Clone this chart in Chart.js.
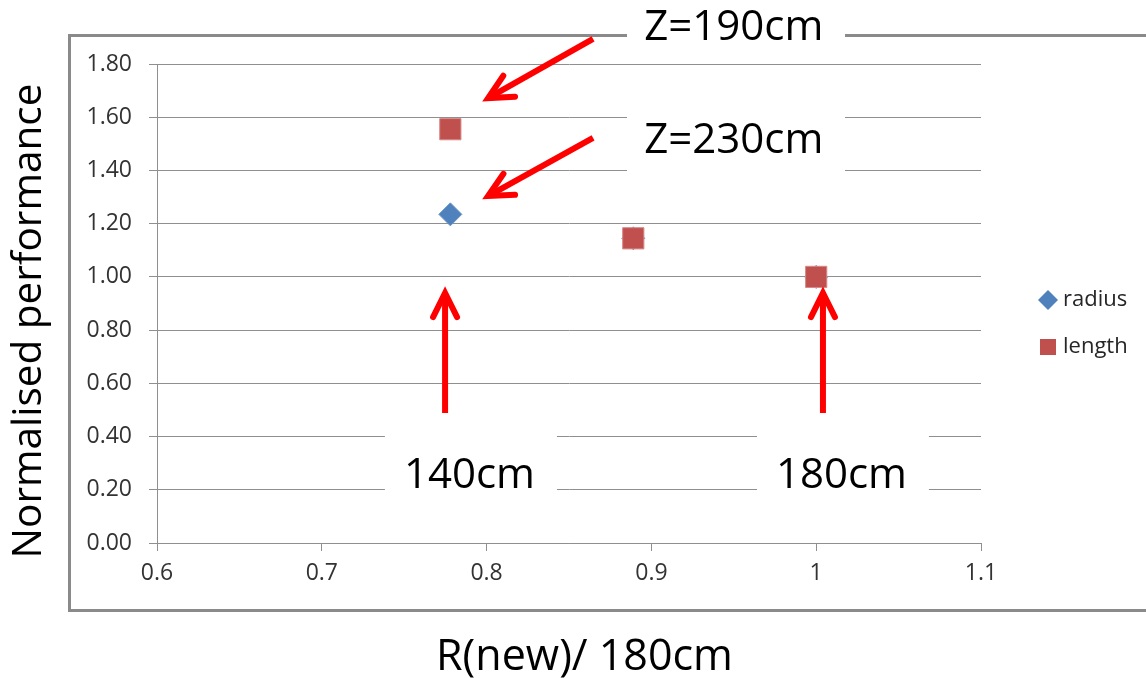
<!DOCTYPE html>
<html><head><meta charset="utf-8">
<script src="https://cdn.jsdelivr.net/npm/chart.js@4/dist/chart.umd.min.js"></script>
<style>html,body{margin:0;padding:0;background:#fff;overflow:hidden}#wrap{width:1146px;height:678px}</style>
</head><body><div id="wrap"><canvas id="c" width="1146" height="678"></canvas></div>
<script>
// ---- data ----
const seriesNames = ['radius', 'length'];
const radiusX = [0.778, 0.889, 1.0];
const radiusY = [1.235, 1.145, 1.0];
const lengthX = [0.778, 0.889, 1.0];
const lengthY = [1.555, 1.145, 1.0];
const xTickValues = [0.6, 0.7, 0.8, 0.9, 1.0, 1.1];
const xTickLabels = ['0.6', '0.7', '0.8', '0.9', '1', '1.1'];
const yTickValues = [0, 0.2, 0.4, 0.6, 0.8, 1.0, 1.2, 1.4, 1.6, 1.8];
const yTickLabels = ['0.00', '0.20', '0.40', '0.60', '0.80', '1.00', '1.20', '1.40', '1.60', '1.80'];
const xTitle = 'R(new)/ 180cm';
const yTitle = 'Normalised performance';

// annotation texts (positions in data units)
const noteTexts = ['Z=190cm', 'Z=230cm', '140cm', '180cm'];
const noteX = [0.950, 0.950, 0.7896, 1.0153];
const noteBaseY = [1.890, 1.4656, 0.205, 0.205];
const noteBoxX0 = [0.8852, 0.8852, 0.7383, 0.9641];
const noteBoxX1 = [1.0175, 1.0175, 0.8427, 1.0684];
const noteBoxY0 = [2.06, 1.68, 0.47, 0.47];
const noteBoxY1 = [1.84, 1.28, 0.06, 0.06];
// arrows: tail -> tip, data units
const arrowTailX = [0.8646, 0.8646, 0.7748, 1.0041];
const arrowTailY = [1.894, 1.522, 0.4885, 0.4885];
const arrowTipX = [0.8009, 0.8009, 0.7748, 1.0041];
const arrowTipY = [1.672, 1.304, 0.9395, 0.9395];

const FONT = '"Open Sans", "Liberation Sans", sans-serif';
const GRID = '#8f8f8f';
const blue = '#4F81BD', red = '#C0504D';

const frame = {
  id: 'frame',
  beforeDraw(chart) {
    const ctx = chart.ctx;
    ctx.save();
    ctx.fillStyle = '#fff';
    ctx.fillRect(0, 0, chart.width, chart.height);
    ctx.strokeStyle = '#8a8a8a';
    ctx.lineWidth = 3;
    ctx.strokeRect(69.5, 35.5, 1200, 575);
    ctx.restore();
  }
};

function drawArrow(ctx, x0, y0, x1, y1) {
  const ang = Math.atan2(y1 - y0, x1 - x0);
  const headLen = 27, spread = 0.46;
  ctx.beginPath();
  ctx.moveTo(x0, y0);
  ctx.lineTo(x1 - Math.cos(ang) * 3, y1 - Math.sin(ang) * 3);
  ctx.lineCap = 'butt';
  ctx.stroke();
  ctx.beginPath();
  ctx.moveTo(x1 - headLen * Math.cos(ang - spread), y1 - headLen * Math.sin(ang - spread));
  ctx.lineTo(x1, y1);
  ctx.lineTo(x1 - headLen * Math.cos(ang + spread), y1 - headLen * Math.sin(ang + spread));
  ctx.lineCap = 'round';
  ctx.lineJoin = 'miter';
  ctx.stroke();
}

const notes = {
  id: 'notes',
  afterDraw(chart) {
    const ctx = chart.ctx, xs = chart.scales.x, ys = chart.scales.y;
    const px = v => xs.getPixelForValue(v), py = v => ys.getPixelForValue(v);
    ctx.save();
    // white boxes
    ctx.fillStyle = '#fff';
    for (let i = 0; i < noteTexts.length; i++) {
      const x0 = px(noteBoxX0[i]), x1 = px(noteBoxX1[i]);
      const y0 = py(noteBoxY0[i]), y1 = py(noteBoxY1[i]);
      ctx.fillRect(x0, y0, x1 - x0, y1 - y0);
    }
    // texts
    ctx.fillStyle = '#000';
    ctx.font = '42px ' + FONT;
    ctx.textAlign = 'center';
    ctx.textBaseline = 'alphabetic';
    for (let i = 0; i < noteTexts.length; i++) {
      ctx.fillText(noteTexts[i], px(noteX[i]), py(noteBaseY[i]));
    }
    // arrows
    ctx.strokeStyle = '#FF0000';
    ctx.lineWidth = 6;
    for (let i = 0; i < arrowTailX.length; i++) {
      drawArrow(ctx, px(arrowTailX[i]), py(arrowTailY[i]), px(arrowTipX[i]), py(arrowTipY[i]));
    }
    // axis titles
    ctx.fillStyle = '#000';
    ctx.font = '43px ' + FONT;
    ctx.textAlign = 'center';
    ctx.textBaseline = 'alphabetic';
    ctx.fillText(xTitle, 584.5, 670);
    ctx.save();
    ctx.translate(41, 321);
    ctx.rotate(-Math.PI / 2);
    ctx.font = '40.5px ' + FONT;
    ctx.fillText(yTitle, 0, 0);
    ctx.restore();
    // legend
    const legX = 1048, legTextX = 1063, legY = [300, 347];
    chart.data.datasets.forEach((ds, i) => {
      const cy = legY[i];
      ctx.fillStyle = ds.backgroundColor;
      ctx.beginPath();
      if (ds.pointStyle === 'rectRot') {
        ctx.moveTo(legX, cy - 10); ctx.lineTo(legX + 10, cy); ctx.lineTo(legX, cy + 10); ctx.lineTo(legX - 10, cy);
        ctx.closePath();
      } else {
        ctx.rect(legX - 8, cy - 8, 16, 16);
      }
      ctx.fill();
      ctx.fillStyle = '#262626';
      ctx.font = '22px ' + FONT;
      ctx.textAlign = 'left';
      ctx.textBaseline = 'middle';
      ctx.fillText(ds.label, legTextX, cy);
    });
    ctx.restore();
  }
};

const toPts = (xs, ys) => xs.map((x, i) => ({ x: x, y: ys[i] }));

new Chart(document.getElementById('c'), {
  type: 'scatter',
  data: {
    datasets: [
      { label: seriesNames[0], data: toPts(radiusX, radiusY), pointStyle: 'rectRot', pointRadius: 11.5, pointHoverRadius: 11.5,
        backgroundColor: blue, borderColor: '#6b95c8', borderWidth: 1, order: 1 },
      { label: seriesNames[1], data: toPts(lengthX, lengthY), pointStyle: 'rect', pointRadius: 15, pointHoverRadius: 15,
        backgroundColor: red, borderColor: '#d58a88', borderWidth: 1, order: 0 }
    ]
  },
  options: {
    responsive: false,
    animation: false,
    devicePixelRatio: 1,
    layout: { padding: { left: 0, right: 165, top: 64, bottom: 0 } },
    plugins: { legend: { display: false }, tooltip: { enabled: false } },
    scales: {
      x: {
        type: 'linear', min: 0.6, max: 1.1,
        afterBuildTicks: s => { s.ticks = xTickValues.map(v => ({ value: v })); },
        afterFit: s => { s.height = 135; },
        ticks: { callback: (v, i) => xTickLabels[i], color: '#333', font: { family: FONT, size: 23 }, padding: 9, maxRotation: 0 },
        grid: { drawOnChartArea: false, drawTicks: true, tickLength: 8, color: GRID, lineWidth: 1 },
        border: { display: true, color: GRID, width: 1 },
        title: { display: false }
      },
      y: {
        type: 'linear', min: 0, max: 1.8,
        afterBuildTicks: s => { s.ticks = yTickValues.map(v => ({ value: v })); },
        afterFit: s => { s.width = 157; },
        ticks: { callback: (v, i) => yTickLabels[i], color: '#333', font: { family: FONT, size: 23 }, padding: 17 },
        grid: { drawOnChartArea: true, drawTicks: true, tickLength: 8, color: GRID, lineWidth: 1 },
        border: { display: true, color: GRID, width: 1 },
        title: { display: false }
      }
    }
  },
  plugins: [frame, notes]
});
</script>
</body></html>
